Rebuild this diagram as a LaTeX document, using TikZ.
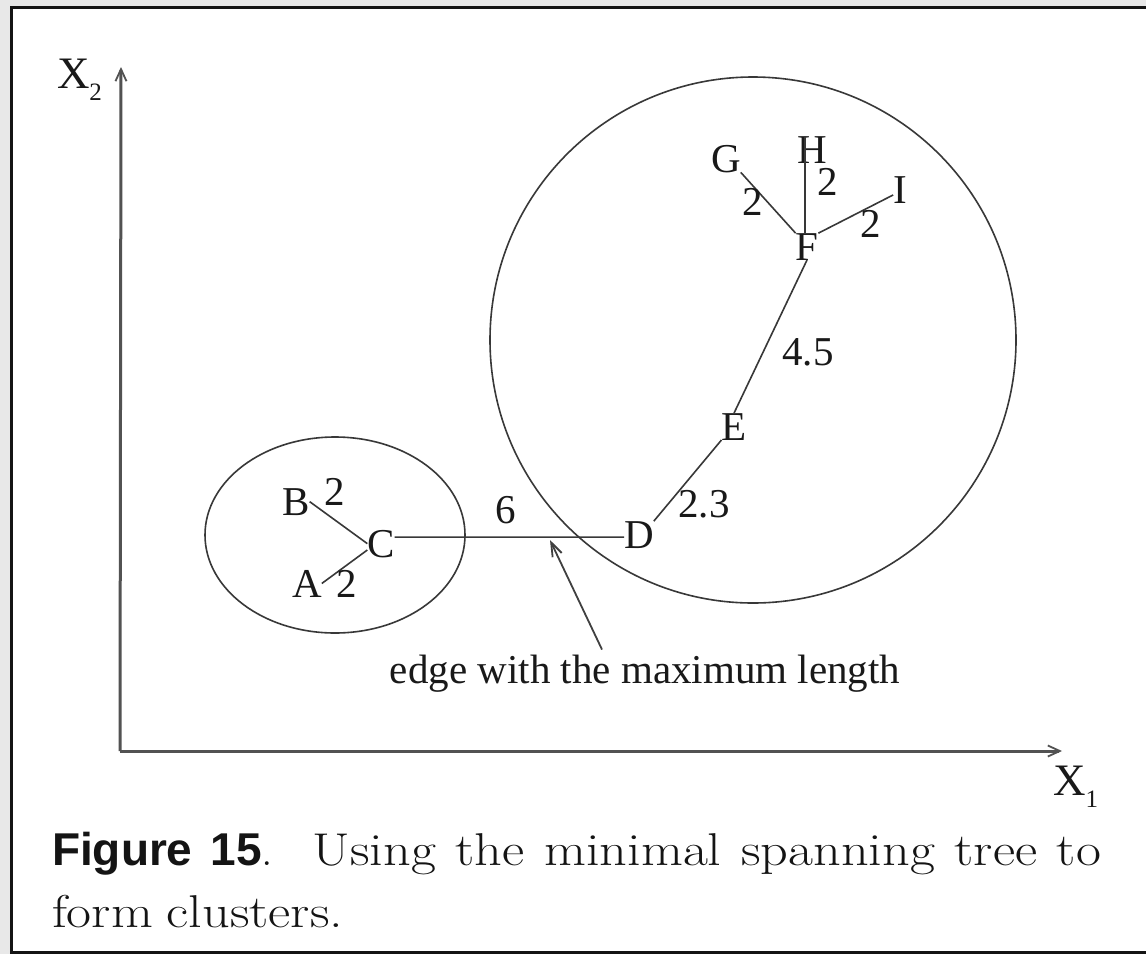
\documentclass[tikz,border=0pt]{standalone}
\usepackage{graphicx}
\usepackage{fontspec}
\newfontfamily\tnr{Liberation Serif}
\newfontfamily\hvs{Liberation Sans}
\usetikzlibrary{arrows.meta,calc}
\newcommand\capw[1]{\scalebox{1.18}[1]{#1}}
\begin{document}
\begin{tikzpicture}[x=1pt,y=-1pt,
  lbl/.style={inner sep=0pt, outer sep=0pt, anchor=base, font=\tnr\fontsize{41}{41}\selectfont, text=black!90},
  axlbl/.style={inner sep=0pt, outer sep=0pt, anchor=base west, font=\tnr\fontsize{45}{45}\selectfont, text=black!90},
  edge/.style={draw=black!78, line width=1.6pt},
  axis/.style={draw=black!68, line width=3pt, -{Straight Barb[length=12pt,width=11pt,line width=1.8pt]}},
  pointer/.style={draw=black!75, line width=1.8pt, -{Straight Barb[length=14pt,width=10pt,line width=1.8pt]}},
  capt/.style={inner sep=0pt, outer sep=0pt, anchor=base west, font=\fontsize{46}{46}\selectfont, text=black!92},
]
\useasboundingbox (0,0) rectangle (1146,954);
\fill[black!9] (0,0) rectangle (1146,954);
\fill[white] (12,8) rectangle (1146,951);
\draw[line width=3pt, black!92] (1146,7) -- (11,7) -- (11,952) -- (1146,952);

% axes
\coordinate (O) at (120,751);
\coordinate (Ytip) at (121,67);
\coordinate (Xtip) at (1062,751);
\draw[axis] (O) -- (Ytip);
\draw[axis] (O) -- (Xtip);
\node[axlbl] (x2) at (57,88) {X\raisebox{-0.28em}{\fontsize{25}{25}\selectfont 2}};
\node[axlbl] (x1) at (1053,795) {X\raisebox{-0.28em}{\fontsize{25}{25}\selectfont 1}};

% clusters
\draw[edge] (335,535) ellipse [x radius=130pt, y radius=98pt];
\draw[edge] (753,340) circle [radius=263pt];

% points
\node[lbl] (B) at (296,515) {B};
\node[lbl] (C) at (381,557) {C};
\node[lbl] (A) at (307,597) {A};
\node[lbl] (D) at (639,548) {D};
\node[lbl] (E) at (734,440) {E};
\node[lbl] (F) at (807,260) {F};
\node[lbl] (G) at (726,172) {G};
\node[lbl] (H) at (812,163) {H};
\node[lbl] (I) at (900,203) {I};

% edges
\draw[edge] (B.east) -- (C.west);
\draw[edge] (A.east) -- (C.205);
\draw[edge] ([yshift=6.5pt]C.east) -- ([yshift=-2.5pt]D.west);
\draw[edge] (D.north east) -- (E.south west);
\draw[edge] (E.north) -- (F.south);
\draw[edge] (F.north west) -- (G.south east);
\draw[edge] ([xshift=-2pt]F.north) -- ([xshift=-7pt]H.north);
\draw[edge] (F.north east) -- ($(I.west)!0.4!(I.south west)$);

% edge weights
\node[lbl] (wBC) at (335,505) {2};
\node[lbl] (wAC) at (347,597) {2};
\node[lbl] (wCD) at (506,523) {6};
\node[lbl] (wDE) at (704,517) {2.3};
\node[lbl] (wEF) at (808,365) {4.5};
\node[lbl] (wFG) at (753,215) {2};
\node[lbl] (wFH) at (828,195) {2};
\node[lbl] (wFI) at (871,237) {2};

% annotation
\node[lbl] (note) at (645,683) {edge with the maximum length};
\coordinate (tip) at (550,540);
\draw[pointer] ([xshift=-43pt,yshift=5pt]note.north) -- (tip);

% caption
\node[capt] (cap1) at (52,865) {\makebox[1049pt][s]{{\hvs\bfseries\fontsize{46}{46}\selectfont Figure 15}.\ \ \capw{Using} \capw{the} \capw{minimal} \capw{spanning} \capw{tree} \capw{to}}};
\node[capt] (cap2) at (52,927) {\capw{form} \capw{clusters.}};
\end{tikzpicture}
\end{document}
